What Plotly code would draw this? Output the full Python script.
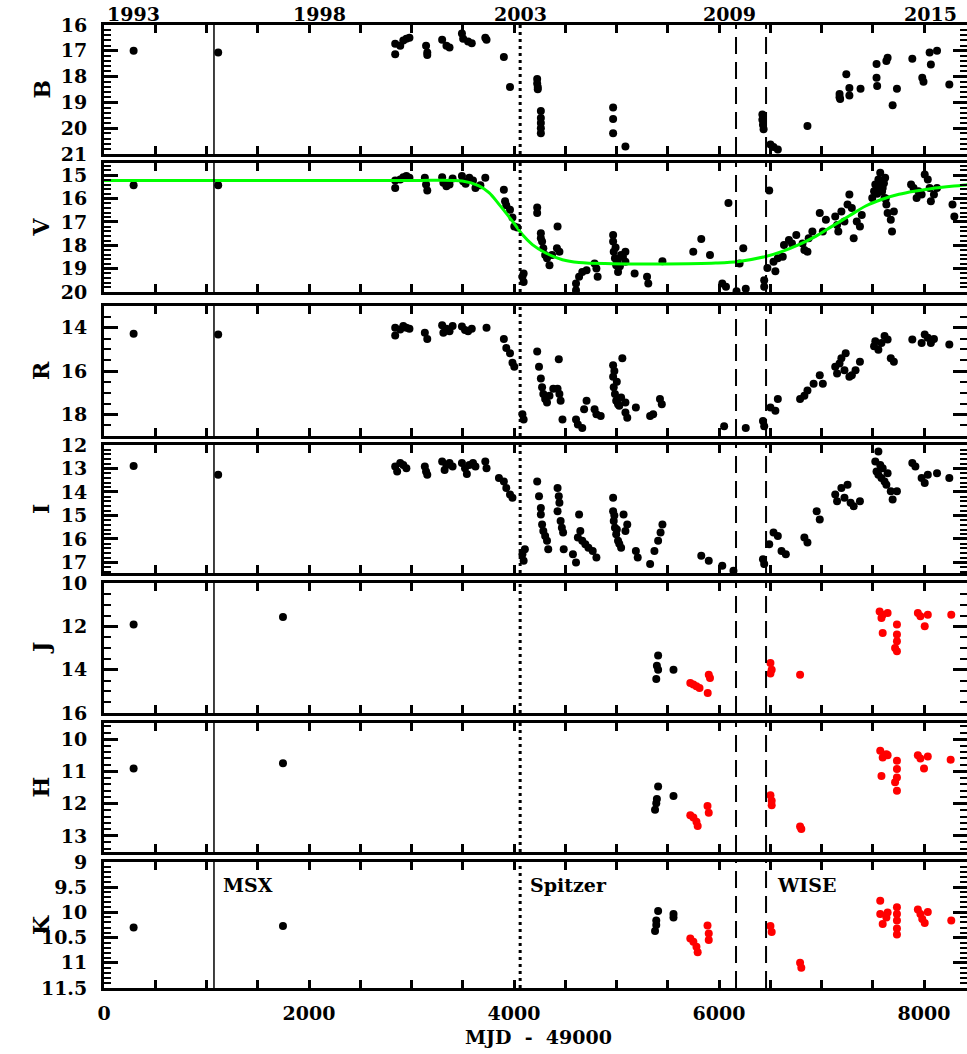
import plotly.graph_objects as go
from plotly.subplots import make_subplots

# ---------------- data (MJD - 49000, magnitude) ----------------
B_x = [289, 1114, 2841, 2841, 2890, 2920, 2950, 2980, 3142, 3154, 3154, 3299, 3341, 3371,
       3492, 3504, 3552, 3588, 3720, 3732, 3901, 3961, 4226, 4226, 4232, 4232,
       4262, 4262, 4262, 4262, 4262, 4967, 4967, 4967, 5087, 6423, 6423, 6429, 6435,
       6502, 6532, 6574, 6863, 7176, 7176, 7182, 7242, 7272, 7272, 7381,
       7537, 7537, 7543, 7633, 7645, 7694, 7736, 7886, 7983, 7995, 8055, 8067, 8127, 8247]
B_y = [17.0, 17.07, 16.73, 17.13, 16.80, 16.60, 16.53, 16.49, 16.80, 17.07, 17.16, 16.57, 16.80, 16.87,
       16.33, 16.53, 16.64, 16.71, 16.49, 16.57, 17.24, 18.40, 18.09, 18.27, 18.40, 18.49,
       19.33, 19.60, 19.80, 20.0, 20.2, 19.2, 19.64, 20.2, 20.71, 19.47, 19.67, 19.87, 20.04,
       20.63, 20.73, 20.83, 19.91, 18.67, 18.8, 18.87, 17.91, 18.73, 18.44, 18.47,
       17.51, 18.04, 18.36, 17.40, 17.27, 19.11, 18.47, 17.31, 18.04, 18.2, 17.07, 17.53, 17.0, 18.31]

V_x = [289, 1114, 2841, 2841, 2890, 2920, 2950, 2980, 3130, 3142, 3154,
       3299, 3311, 3341, 3371, 3401, 3492, 3504, 3528, 3564, 3600, 3624, 3672, 3720,
       3901, 3913, 3925, 3961, 3985, 4003, 4033, 4094, 4094, 4082,
       4226, 4226, 4262, 4262, 4274, 4286, 4304, 4322, 4346, 4371, 4425, 4419, 4443,
       4605, 4605, 4635, 4666, 4708, 4786, 4804, 4816,
       4967, 4967, 4973, 4985, 4997, 5015, 5045, 5087, 5087, 4991, 5009, 5033, 5063,
       5177, 5298, 5310, 5448, 5749, 5827, 5912, 6092, 6032, 6068,
       6201, 6237, 6171, 6261, 6441, 6441, 6472, 6490, 6532, 6550, 6574, 6622, 6634,
       6682, 6712, 6754, 6815, 6833, 6863, 6875, 6911, 6983, 7013, 7043,
       7134, 7152, 7164, 7194, 7224, 7254, 7272, 7296, 7344, 7375, 7393, 7314,
       7495, 7513, 7525, 7555, 7573, 7597, 7615, 7633, 7645, 7676, 7688, 7706, 7585, 7621,
       7543, 7567, 7591, 7609, 7627,
       7874, 7898, 7928, 7946, 7977, 8007, 8037, 8055, 8097, 8127, 8067, 8278, 8296]
V_y = [15.43, 15.43, 15.23, 15.55, 15.19, 15.09, 15.04, 15.11, 15.11, 15.40, 15.66,
       15.09, 15.33, 15.47, 15.40, 15.14, 15.04, 15.26, 15.37, 15.11, 15.23, 15.55, 15.43, 15.11,
       15.62, 16.12, 16.29, 16.48, 16.81, 17.20, 17.24, 19.21, 19.57, 19.35,
       16.38, 16.62, 17.49, 17.70, 17.84, 18.13, 18.42, 18.56, 18.85, 18.42, 17.20, 18.13, 18.28,
       19.64, 19.93, 19.35, 19.14, 19.07, 18.78, 18.99, 19.35,
       17.56, 17.84, 18.28, 18.56, 18.85, 19.14, 18.42, 18.71, 18.28, 18.10, 18.70, 18.90, 18.50,
       19.21, 19.35, 19.64, 18.68, 18.28, 17.73, 18.42, 16.19, 19.64, 19.78,
       18.78, 18.13, 19.97, 19.86, 19.50, 19.78, 18.97, 15.66, 18.71, 19.11, 18.56, 18.49, 17.99,
       17.77, 17.92, 17.56, 17.92, 18.20, 18.28, 17.70, 17.41, 16.62, 17.41, 16.91,
       16.77, 17.13, 17.41, 16.55, 16.98, 16.26, 15.83, 16.41, 16.98, 17.20, 16.70, 17.70,
       15.98, 15.69, 15.40, 15.19, 14.90, 15.55, 15.98, 16.26, 16.62, 16.91, 17.41, 16.55, 15.26, 15.11,
       15.80, 15.50, 15.70, 15.35, 16.00,
       15.40, 15.55, 15.98, 15.69, 15.83, 14.97, 15.19, 15.55, 15.83, 15.55, 16.12, 16.26, 16.77]

# model curve for V
Vfit_x = [0, 1000, 2000, 3000, 3496, 3659, 3756, 3854, 3984, 4081, 4179, 4309, 4472, 4634,
          4959, 5480, 5968, 6195, 6455, 6618, 6780, 6943, 7106, 7268, 7431, 7593, 7756,
          7919, 8081, 8244, 8406, 8500]
Vfit_y = [15.23, 15.23, 15.23, 15.23, 15.25, 15.46, 15.75, 16.25, 16.97, 17.54, 17.97, 18.33,
          18.62, 18.74, 18.79, 18.80, 18.76, 18.69, 18.48, 18.26, 17.97, 17.62, 17.18, 16.75,
          16.32, 16.03, 15.82, 15.68, 15.57, 15.49, 15.42, 15.39]

R_x = [289, 1114, 2841, 2841, 2890, 2920, 2950, 2980, 3130, 3154, 3299, 3311, 3341, 3371, 3401,
       3492, 3522, 3552, 3588, 3732, 3901, 3925, 3961, 3985, 4003, 4082, 4094,
       4226, 4244, 4262, 4274, 4286, 4304, 4322, 4346, 4383, 4425, 4443, 4455, 4437, 4473,
       4605, 4623, 4666, 4684, 4708, 4786, 4804, 4846,
       4967, 4967, 4973, 4985, 4997, 5015, 5045, 5057, 5087, 5087, 4979, 5003, 5027,
       5105, 5189, 5328, 5358, 5424, 5442, 6050, 6261, 6429, 6441, 6502, 6550, 6574,
       6791, 6833, 6863, 6923, 6983, 7013, 7134, 7152, 7176, 7194, 7224, 7236, 7272, 7296, 7332, 7375,
       7513, 7525, 7555, 7585, 7615, 7645, 7676, 7706, 7886, 7977, 8007, 8037, 8067, 8097, 8247]
R_y = [14.28, 14.31, 14.0, 14.36, 14.08, 13.92, 14.0, 14.05, 14.24, 14.52, 13.89, 14.24, 14.05, 14.16, 13.92,
       13.95, 14.11, 14.16, 14.05, 14.0, 14.52, 14.94, 15.18, 15.62, 15.80, 18.0, 18.24,
       15.10, 15.80, 16.35, 16.75, 17.06, 17.29, 17.45, 17.14, 16.82, 16.82, 17.06, 17.37, 15.46, 18.24,
       18.24, 18.47, 18.63, 17.76, 17.37, 17.76, 18.0, 18.08,
       15.73, 16.27, 16.75, 17.06, 17.37, 17.53, 17.22, 15.41, 17.45, 17.92, 16.00, 16.50, 17.60,
       18.16, 17.69, 18.08, 18.0, 17.29, 17.53, 18.55, 18.63, 18.31, 18.55, 17.69, 17.84, 17.29,
       17.29, 17.14, 16.90, 16.59, 16.20, 16.59, 15.80, 16.12, 15.65, 15.41, 15.96, 15.18, 16.27, 16.20, 15.96, 15.57,
       14.86, 14.63, 15.02, 14.71, 14.39, 14.55, 15.41, 15.57, 14.55, 14.71, 14.31, 14.47, 14.71, 14.52, 14.78]

I_x = [289, 1114, 2841, 2860, 2890, 2920, 2950, 3130, 3142, 3154, 3299, 3323, 3341, 3371, 3401,
       3492, 3522, 3540, 3564, 3600, 3624, 3720, 3732, 3853, 3901, 3925, 3961, 3985,
       4082, 4094, 4106, 4226, 4244, 4262, 4262, 4274, 4286, 4304, 4322, 4334,
       4425, 4437, 4443, 4425, 4455, 4467, 4479, 4485, 4635,
       4575, 4605, 4623, 4647, 4666, 4696, 4726, 4768, 4804,
       4967, 4967, 4973, 4985, 4997, 5015, 5045, 5069, 5087, 5105, 4979, 5003, 5027,
       5189, 5207, 5328, 5370, 5406, 5430, 5448, 5827, 5900, 6032, 6141, 6429, 6441,
       6490, 6532, 6574, 6610, 6652, 6833, 6863, 6953, 6983,
       7134, 7152, 7194, 7224, 7254, 7284, 7314, 7375,
       7525, 7537, 7555, 7555, 7573, 7585, 7597, 7615, 7633, 7645, 7676, 7694, 7736,
       7886, 7916, 7977, 8007, 8037, 8127, 8247]
I_y = [12.89, 13.27, 12.92, 13.13, 12.77, 12.85, 12.99, 12.92, 13.13, 13.27, 12.70, 13.06, 12.85, 12.77, 12.92,
       12.77, 12.99, 13.24, 12.85, 12.77, 12.92, 12.70, 12.99, 13.41, 13.55, 13.83, 14.11, 14.25,
       16.65, 16.93, 16.44, 13.55, 14.18, 14.68, 14.96, 15.38, 15.66, 15.87, 16.08, 16.44,
       13.83, 14.18, 14.46, 14.82, 15.24, 15.52, 15.73, 16.44, 14.96,
       16.65, 17.0, 15.94, 15.66, 16.08, 16.23, 16.37, 16.51, 16.79,
       14.25, 14.82, 15.24, 15.52, 15.80, 16.08, 16.37, 14.96, 15.66, 15.38, 15.00, 15.60, 16.20,
       16.51, 16.79, 17.07, 16.51, 16.08, 15.73, 15.38, 16.72, 16.93, 17.14, 17.35, 16.86, 17.07,
       16.23, 15.73, 15.87, 16.51, 16.65, 15.94, 16.15, 14.82, 15.17,
       14.11, 14.39, 13.83, 14.25, 13.69, 14.46, 14.61, 14.39,
       12.70, 13.13, 12.28, 13.27, 12.85, 13.41, 12.99, 13.55, 13.69, 13.20, 13.97, 14.32, 13.97,
       12.77, 12.92, 13.41, 13.62, 13.27, 13.20, 13.41]

J_black_x = [289, 1746, 5406, 5394, 5406, 5388, 5556]
J_black_y = [11.92, 11.57, 13.35, 13.82, 14.0, 14.43, 14.0]
J_red_x = [5720, 5750, 5780, 5810, 5890, 5900, 5912, 6502, 6514, 6502, 6791, 7567, 7597, 7645, 7585,
           7597, 7736, 7736, 7736, 7718, 7736, 7940, 7965, 8007, 8037, 8266]
J_red_y = [14.62, 14.69, 14.77, 14.85, 15.08, 14.23, 14.38, 13.69, 14.0, 14.18, 14.23, 11.31, 11.46, 11.38, 11.62,
           12.31, 11.92, 12.38, 12.69, 13.0, 13.15, 11.38, 11.54, 12.0, 11.46, 11.46]

H_black_x = [289, 1746, 5406, 5394, 5388, 5376, 5556]
H_black_y = [10.91, 10.75, 11.47, 11.86, 11.99, 12.19, 11.76]
H_red_x = [5720, 5750, 5780, 5792, 5888, 5900, 6502, 6514, 6514, 6791, 6803, 7573, 7597, 7633, 7645,
           7585, 7736, 7736, 7736, 7718, 7736, 7940, 7965, 8000, 8037, 8260]
H_red_y = [12.36, 12.43, 12.56, 12.69, 12.07, 12.28, 11.74, 11.91, 12.05, 12.71, 12.79, 10.36, 10.57, 10.47, 10.50,
           11.14, 10.67, 10.93, 11.19, 11.34, 11.60, 10.50, 10.60, 10.91, 10.54, 10.64]

K_black_x = [289, 1746, 5406, 5388, 5388, 5376, 5556, 5556]
K_black_y = [10.30, 10.27, 9.97, 10.16, 10.25, 10.37, 10.03, 10.10]
K_red_x = [5720, 5750, 5780, 5792, 5888, 5900, 5900, 6502, 6514, 6791, 6803, 7573, 7573, 7597, 7645, 7633,
           7736, 7736, 7736, 7736, 7736, 7940, 7965, 7983, 8007, 8037, 8266]
K_red_y = [10.52, 10.58, 10.68, 10.79, 10.26, 10.42, 10.55, 10.27, 10.39, 11.0, 11.10, 9.77, 10.03, 10.23, 10.0, 10.10,
           9.90, 10.03, 10.16, 10.32, 10.44, 9.94, 10.03, 10.13, 10.21, 9.99, 10.16]

# epochs of the space missions (MJD - 49000)
MSX_x = 1073
SPITZER_x = 4060
WISE_x = [6166, 6459]
event_labels = ["MSX", "Spitzer", "WISE"]
event_label_x = [1140, 4140, 6545]

year_labels = ["1993", "1998", "2003", "2009", "2015"]
year_label_x = [283, 2107, 4059, 6098, 8068]

band_names = ["B", "V", "R", "I", "J", "H", "K"]
band_ranges = [(21, 16), (20, 14.48), (19, 13), (17.45, 12), (16, 10), (13.5, 9.5), (11.5, 9)]
band_tick0 = [16, 15, 14, 12, 10, 10, 9]
band_dtick = [1, 1, 2, 1, 2, 1, 0.5]
band_minor = [0.2, 0.2, 0.5, 0.2, 0.5, 0.2, 0.1]

# ---------------- layout geometry ----------------
W, H = 967, 1054
panel_px = [(25, 154), (163, 292), (306, 436), (445, 573), (583, 713), (723, 852), (862, 988)]
L = 104
XMAX = (W - L) / 0.1025

FONT = "DejaVu Serif"
fs = 19
F = dict(family=FONT, size=fs, color="black", weight="bold")


def py(p):
    return 1 - p / H


def px(p):
    return (p - L) / (W - L)


fig = make_subplots(rows=7, cols=1, shared_xaxes=True, vertical_spacing=0.01)

mk = dict(color="black", size=8, line=dict(width=0))
red = dict(color="#ff0000", size=8, line=dict(width=0))

fig.add_trace(go.Scatter(x=B_x, y=B_y, mode="markers", marker=mk), row=1, col=1)
fig.add_trace(go.Scatter(x=V_x, y=V_y, mode="markers", marker=mk), row=2, col=1)
fig.add_trace(go.Scatter(x=Vfit_x, y=Vfit_y, mode="lines", line=dict(color="#00ff00", width=3, shape="spline")), row=2, col=1)
fig.add_trace(go.Scatter(x=R_x, y=R_y, mode="markers", marker=mk), row=3, col=1)
fig.add_trace(go.Scatter(x=I_x, y=I_y, mode="markers", marker=mk), row=4, col=1)
fig.add_trace(go.Scatter(x=J_black_x, y=J_black_y, mode="markers", marker=mk), row=5, col=1)
fig.add_trace(go.Scatter(x=J_red_x, y=J_red_y, mode="markers", marker=red), row=5, col=1)
fig.add_trace(go.Scatter(x=H_black_x, y=H_black_y, mode="markers", marker=mk), row=6, col=1)
fig.add_trace(go.Scatter(x=H_red_x, y=H_red_y, mode="markers", marker=red), row=6, col=1)
fig.add_trace(go.Scatter(x=K_black_x, y=K_black_y, mode="markers", marker=mk), row=7, col=1)
fig.add_trace(go.Scatter(x=K_red_x, y=K_red_y, mode="markers", marker=red), row=7, col=1)

annotations = []
shapes = []
for i in range(7):
    n = i + 1
    top, bot = panel_px[i]
    dom = [py(bot), py(top)]
    ysuf = "" if n == 1 else str(n)
    fig.layout["yaxis" + ysuf].update(
        domain=dom, range=list(band_ranges[i]), tickmode="linear", tick0=band_tick0[i], dtick=band_dtick[i],
        showline=True, linewidth=3, linecolor="black", mirror="ticks", ticks="inside", ticklen=14,
        tickwidth=2.5, tickcolor="black", showgrid=False, zeroline=False, tickfont=F,
        ticklabelstandoff=10, automargin=False,
        minor=dict(dtick=band_minor[i], tick0=band_tick0[i], ticks="inside", ticklen=7, tickwidth=2,
                   tickcolor="black", showgrid=False),
    )
    fig.layout["xaxis" + ysuf].update(
        range=[0, XMAX], tickmode="linear", tick0=0, dtick=2000, showline=True, linewidth=3,
        linecolor="black", mirror="ticks", ticks="inside", ticklen=8, tickwidth=2.5, tickcolor="black",
        showgrid=False, zeroline=False, showticklabels=(n == 7), tickfont=F, automargin=False,
        ticklabelstandoff=6,
        minor=dict(dtick=500, tick0=0, ticks="inside", ticklen=8, tickwidth=2.5, tickcolor="black", showgrid=False),
    )
    yref = "y" + ysuf + " domain"
    xref = "x" + ysuf
    shapes.append(dict(type="line", xref=xref, yref=yref, x0=MSX_x, x1=MSX_x, y0=0, y1=1,
                       line=dict(color="black", width=1.5)))
    shapes.append(dict(type="line", xref=xref, yref=yref, x0=SPITZER_x, x1=SPITZER_x, y0=0, y1=1,
                       line=dict(color="black", width=3, dash="3px,4px")))
    for wx in WISE_x:
        shapes.append(dict(type="line", xref=xref, yref=yref, x0=wx, x1=wx, y0=0, y1=1,
                           line=dict(color="black", width=2, dash="17px,8px")))
    annotations.append(dict(text=band_names[i], xref="paper", yref="paper", x=px(41),
                            y=(dom[0] + dom[1]) / 2, textangle=-90, showarrow=False,
                            font=dict(family=FONT, size=22, color="black", weight="bold"),
                            xanchor="center", yanchor="middle"))

for lab, lx in zip(event_labels, event_label_x):
    annotations.append(dict(text=lab, xref="x7", yref="y7", x=lx, y=9.45, showarrow=False, xanchor="left",
                            yanchor="middle", font=F))
for lab, lx in zip(year_labels, year_label_x):
    annotations.append(dict(text=lab, xref="x", yref="paper", x=lx, y=py(14), showarrow=False,
                            xanchor="center", yanchor="middle", font=F))
annotations.append(dict(text="MJD  -  49000", xref="paper", yref="paper", x=px(538),
                        y=py(1037), showarrow=False, xanchor="center", yanchor="middle", font=F))

fig.update_layout(width=W, height=H, margin=dict(l=L, r=0, t=0, b=0, autoexpand=False), showlegend=False,
                  plot_bgcolor="white", paper_bgcolor="white", annotations=annotations, shapes=shapes)

fig.write_html("out.html", config={"displayModeBar": False},
               post_script="document.body.style.margin='0';")
